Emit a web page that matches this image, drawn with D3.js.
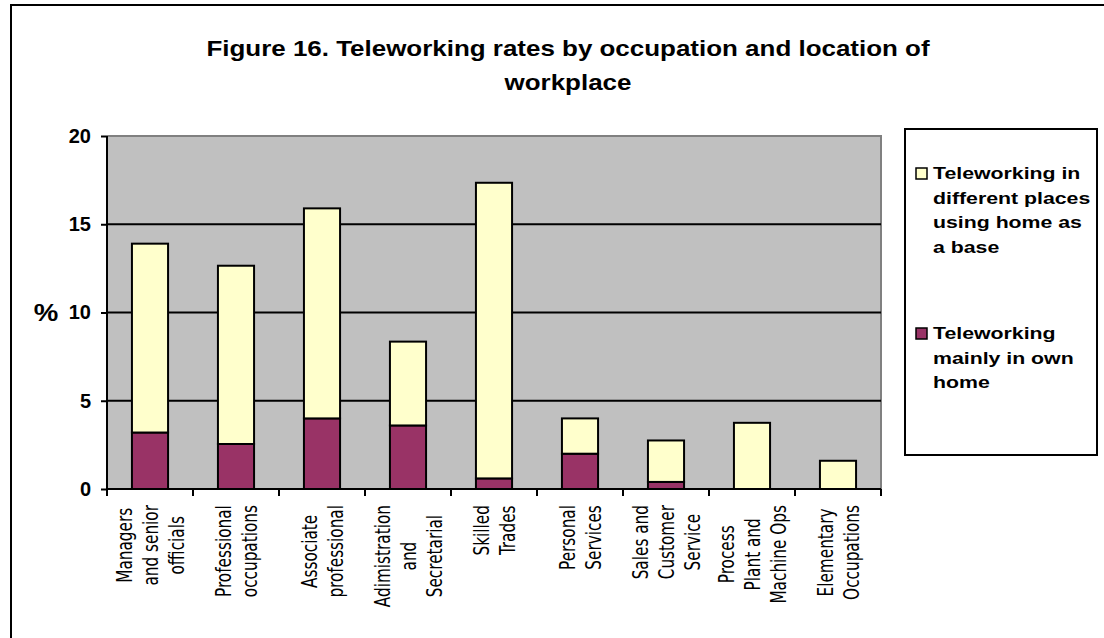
<!DOCTYPE html>
<html>
<head>
<meta charset="utf-8">
<script src="https://cdn.jsdelivr.net/npm/d3@7"></script>
<style>
  html, body { margin: 0; padding: 0; background: #fff; }
  svg { display: block; }
</style>
</head>
<body>
<svg id="chart" width="1104" height="638"></svg>
<script>
// ---- Data ----
const categories = [
  "Managers\nand senior\nofficials",
  "Professional\noccupations",
  "Associate\nprofessional",
  "Adimistration\nand\nSecretarial",
  "Skilled\nTrades",
  "Personal\nServices",
  "Sales and\nCustomer\nService",
  "Process\nPlant and\nMachine Ops",
  "Elementary\nOccupations"
];
const mainlyOwnHome = [3.2, 2.55, 4.0, 3.6, 0.6, 2.0, 0.4, 0, 0];
const differentPlaces = [10.7, 10.1, 11.9, 4.75, 16.75, 2.0, 2.35, 3.75, 1.6];
const yTicks = [0, 5, 10, 15, 20];
const titleLines = ["Figure 16. Teleworking rates by occupation and location of", "workplace"];
const legendEntries = [
  { key: "different", lines: ["Teleworking in", "different places", "using home as", "a base"], color: "#FFFFCC" },
  { key: "home", lines: ["Teleworking", "mainly in own", "home"], color: "#993366" }
];

// ---- Layout ----
const svg = d3.select("#chart");
const plot = { left: 107, right: 881, top: 136, bottom: 489 };
const boldFont = "Liberation Sans, Arial, sans-serif";
const STRETCH = 1.22; // reference text is rendered horizontally wide

// outer border
svg.append("rect").attr("x", 11).attr("y", 5).attr("width", 1110).attr("height", 650)
  .attr("fill", "#fff").attr("stroke", "#000").attr("stroke-width", 2);

// title
const titleG = svg.append("g").attr("transform", `translate(568,0) scale(1.18,1)`);
const title = titleG.append("text").attr("text-anchor", "middle")
  .attr("font-family", boldFont).attr("font-weight", "bold")
  .attr("font-size", 22).attr("fill", "#000");
titleLines.forEach((t, i) => {
  title.append("tspan").attr("x", 0).attr("y", 56 + i * 34).text(t);
});

// scales
const table = categories.map((c, i) => ({ cat: c, home: mainlyOwnHome[i], different: differentPlaces[i] }));
const x = d3.scaleBand().domain(categories).range([plot.left, plot.right]).paddingInner(0).paddingOuter(0);
const y = d3.scaleLinear().domain([0, 20]).range([plot.bottom, plot.top]);

// plot background
svg.append("rect").attr("x", plot.left).attr("y", plot.top)
  .attr("width", plot.right - plot.left).attr("height", plot.bottom - plot.top)
  .attr("fill", "#C0C0C0");
svg.append("path")
  .attr("d", `M${plot.left},${plot.top}H${plot.right}V${plot.bottom}`)
  .attr("fill", "none").attr("stroke", "#808080").attr("stroke-width", 2);

// gridlines
svg.append("g").selectAll("line").data(yTicks.filter(v => v > 0 && v < 20)).join("line")
  .attr("x1", plot.left).attr("x2", plot.right)
  .attr("y1", d => y(d)).attr("y2", d => y(d))
  .attr("stroke", "#000").attr("stroke-width", 2);

// bars
const stacked = d3.stack().keys(["home", "different"])(table);
const colors = { home: "#993366", different: "#FFFFCC" };
const barW = x.bandwidth() * 0.42;
svg.append("g").selectAll("g").data(stacked).join("g")
  .attr("fill", d => colors[d.key])
  .selectAll("rect").data(d => d.filter(s => s[1] - s[0] > 0)).join("rect")
  .attr("x", d => x(d.data.cat) + (x.bandwidth() - barW) / 2)
  .attr("width", barW)
  .attr("y", d => y(d[1]))
  .attr("height", d => y(d[0]) - y(d[1]))
  .attr("stroke", "#000").attr("stroke-width", 2);

// y axis
const yAxis = svg.append("g").attr("transform", `translate(${plot.left},0)`)
  .call(d3.axisLeft(y).tickValues(yTicks).tickSize(6).tickPadding(10).tickFormat(d3.format("d")));
yAxis.select(".domain").attr("stroke", "#000").attr("stroke-width", 2).attr("d", `M0,${plot.top}V${plot.bottom}`);
yAxis.selectAll(".tick line").attr("stroke", "#000").attr("stroke-width", 2);
yAxis.selectAll(".tick text").attr("font-family", boldFont)
  .attr("font-weight", "bold").attr("font-size", 20).attr("fill", "#000");

// % label
svg.append("g").attr("transform", "translate(46,313) scale(1.2,1)")
  .append("text").attr("x", 0).attr("y", 0).attr("text-anchor", "middle")
  .attr("dominant-baseline", "central")
  .attr("font-family", boldFont).attr("font-weight", "bold")
  .attr("font-size", 23).attr("fill", "#000").text("%");

// x axis
const xAxis = svg.append("g").attr("transform", `translate(0,${plot.bottom})`);
xAxis.append("line").attr("x1", plot.left).attr("x2", plot.right).attr("y1", 0).attr("y2", 0)
  .attr("stroke", "#000").attr("stroke-width", 2);
const boundaries = categories.map(c => x(c)).concat([plot.right]);
xAxis.selectAll("line.tk").data(boundaries).join("line").attr("class", "tk")
  .attr("x1", d => d).attr("x2", d => d).attr("y1", 0).attr("y2", 7)
  .attr("stroke", "#000").attr("stroke-width", 2);

// x labels (rotated, lines centered, block top-aligned under axis)
const labelFont = "Liberation Sans Narrow, DejaVu Sans Condensed, Arial Narrow, sans-serif";
const lineH = 26 / STRETCH;
const labelTop = 505;
categories.forEach(c => {
  const lines = c.split("\n");
  const g = svg.append("g");
  const texts = lines.map(l => g.append("text").attr("font-family", labelFont)
    .attr("font-size", 17).attr("fill", "#000").attr("text-anchor", "middle")
    .attr("dominant-baseline", "central").text(l));
  const maxLen = d3.max(texts, t => t.node().getComputedTextLength());
  const cx = x(c) + x.bandwidth() / 2;
  const cy = labelTop + maxLen / 2;
  g.attr("transform", `translate(${cx},${cy}) scale(${STRETCH},1) rotate(-90)`);
  texts.forEach((t, i) => t.attr("x", 0).attr("y", (i - (lines.length - 1) / 2) * lineH));
});

// legend
svg.append("rect").attr("x", 905).attr("y", 129).attr("width", 192).attr("height", 326)
  .attr("fill", "#fff").attr("stroke", "#000").attr("stroke-width", 2);
const legendStarts = [173, 333];
legendEntries.forEach((e, k) => {
  const y0 = legendStarts[k];
  svg.append("rect").attr("x", 916).attr("y", y0 - 5).attr("width", 11).attr("height", 11)
    .attr("fill", e.color).attr("stroke", "#000").attr("stroke-width", 1.5);
  const t = svg.append("g").attr("transform", "translate(933,0) scale(1.29,1)")
    .append("text").attr("font-family", boldFont)
    .attr("font-weight", "bold").attr("font-size", 16.5).attr("fill", "#000")
    .attr("dominant-baseline", "central");
  e.lines.forEach((l, i) => t.append("tspan").attr("x", 0).attr("y", y0 + i * 24.5).text(l));
});
</script>
</body>
</html>
